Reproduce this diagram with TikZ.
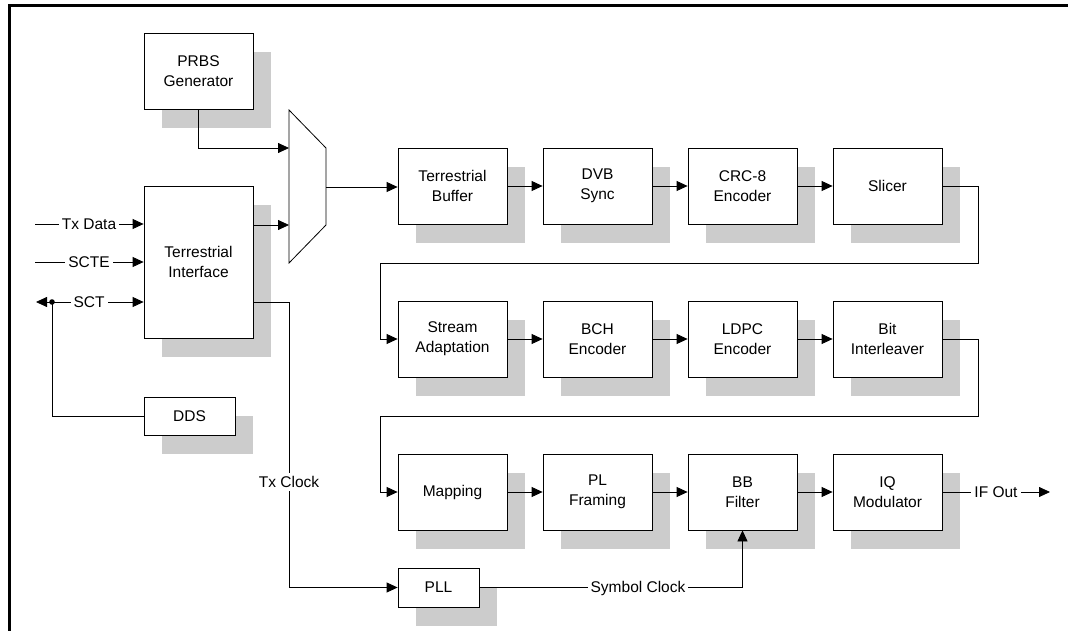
\documentclass[tikz,border=0pt]{standalone}
\usepackage{fontspec}
\setmainfont{Liberation Sans}
\usetikzlibrary{arrows.meta,shadows}
\begin{document}
\begin{tikzpicture}[x=1pt,y=-1pt,
  every node/.style={font=\fontsize{15.5}{20}\selectfont},
  blk/.style={draw, fill=white, line width=0.8pt, align=center, inner sep=0pt,
    minimum width=109pt, minimum height=76pt,
    drop shadow={shadow xshift=18pt, shadow yshift=-19pt, fill=gray!40, draw=none, opacity=1}},
  wire/.style={line width=0.8pt},
  arr/.style={wire, -{Triangle[length=11pt,width=10pt]}},
  lbl/.style={fill=white, inner sep=3pt}]
\useasboundingbox (0,0) rectangle (1068,631);
% frame
\draw[line width=3.4pt] (9.5,631) -- (9.5,5.5) -- (1068,5.5);
% blocks
\node[blk] (prbs) at (198.5,71.5) {PRBS\\Generator};
\node[blk, minimum height=152pt] (ti) at (198.5,262) {Terrestrial\\Interface};
\node[blk, minimum width=91pt, minimum height=38pt] (dds) at (189.5,416) {DDS};
\node[blk] (tb) at (452.5,186) {Terrestrial\\Buffer};
\node[blk] (dvb) at (597.5,186) {DVB\\Sync};
\node[blk] (crc) at (742.5,186) {CRC-8\\Encoder};
\node[blk] (sl) at (887.5,186) {Slicer};
\node[blk] (sa) at (452.5,339) {Stream\\Adaptation};
\node[blk] (bch) at (597.5,339) {BCH\\Encoder};
\node[blk] (ldpc) at (742.5,339) {LDPC\\Encoder};
\node[blk] (bi) at (887.5,339) {Bit\\Interleaver};
\node[blk] (map) at (452.5,492) {Mapping};
\node[blk] (plf) at (597.5,492) {PL\\Framing};
\node[blk] (bbf) at (742.5,492) {BB\\Filter};
\node[blk] (iq) at (887.5,492) {IQ\\Modulator};
\node[blk, minimum width=81pt, minimum height=39pt] (pll) at (438.5,587.5) {PLL};
% multiplexer
\draw[wire, fill=white] (289,110) -- (326,148) -- (326,225) -- (289,263) -- cycle;
\coordinate (mi1) at (289,148);
\coordinate (mi2) at (289,225);
\coordinate (mo) at (326,187);
% coordinates
\coordinate (inTx) at (35,224);
\coordinate (inSCTE) at (35,262);
\coordinate (sctL) at (36,302);
\coordinate (dot) at (52,302);
\coordinate (tc) at (289,302);
\coordinate (c1) at (978,263);
\coordinate (c2) at (380,263);
\coordinate (c3) at (978,416);
\coordinate (c4) at (380,416);
\coordinate (ifo) at (1050,492);
% connectors
\draw[arr] (prbs.south) |- (mi1);
\draw[arr] (mi2 -| ti.east) -- (mi2);
\draw[arr] (mo) -- (tb.west |- mo);
\draw[arr] (tb) -- (dvb);
\draw[arr] (dvb) -- (crc);
\draw[arr] (crc) -- (sl);
\draw[arr] (sl.east) -| (c1) -- (c2) |- (sa.west);
\draw[arr] (sa) -- (bch);
\draw[arr] (bch) -- (ldpc);
\draw[arr] (ldpc) -- (bi);
\draw[arr] (bi.east) -| (c3) -- (c4) |- (map.west);
\draw[arr] (map) -- (plf);
\draw[arr] (plf) -- (bbf);
\draw[arr] (bbf) -- (iq);
\draw[arr] (iq.east) -- (ifo);
\node[lbl] at (996,492) {IF Out};
\draw[arr] (inTx) -- (inTx -| ti.west);
\node[lbl] at (89,224) {Tx Data};
\draw[arr] (inSCTE) -- (inSCTE -| ti.west);
\node[lbl] at (89,262) {SCTE};
\draw[arr] (dot) -- (dot -| ti.west);
\draw[arr] (dot) -- (sctL);
\node[lbl] at (89,302) {SCT};
\draw[wire] (dds.west) -| (dot);
\fill (dot) circle (2.8pt);
\draw[arr] (tc -| ti.east) -- (tc) |- (pll.west);
\node[lbl] at (289,482) {Tx Clock};
\draw[arr] (pll.east) -| (bbf.south);
\node[lbl] at (638,588) {Symbol Clock};
\end{tikzpicture}
\end{document}
